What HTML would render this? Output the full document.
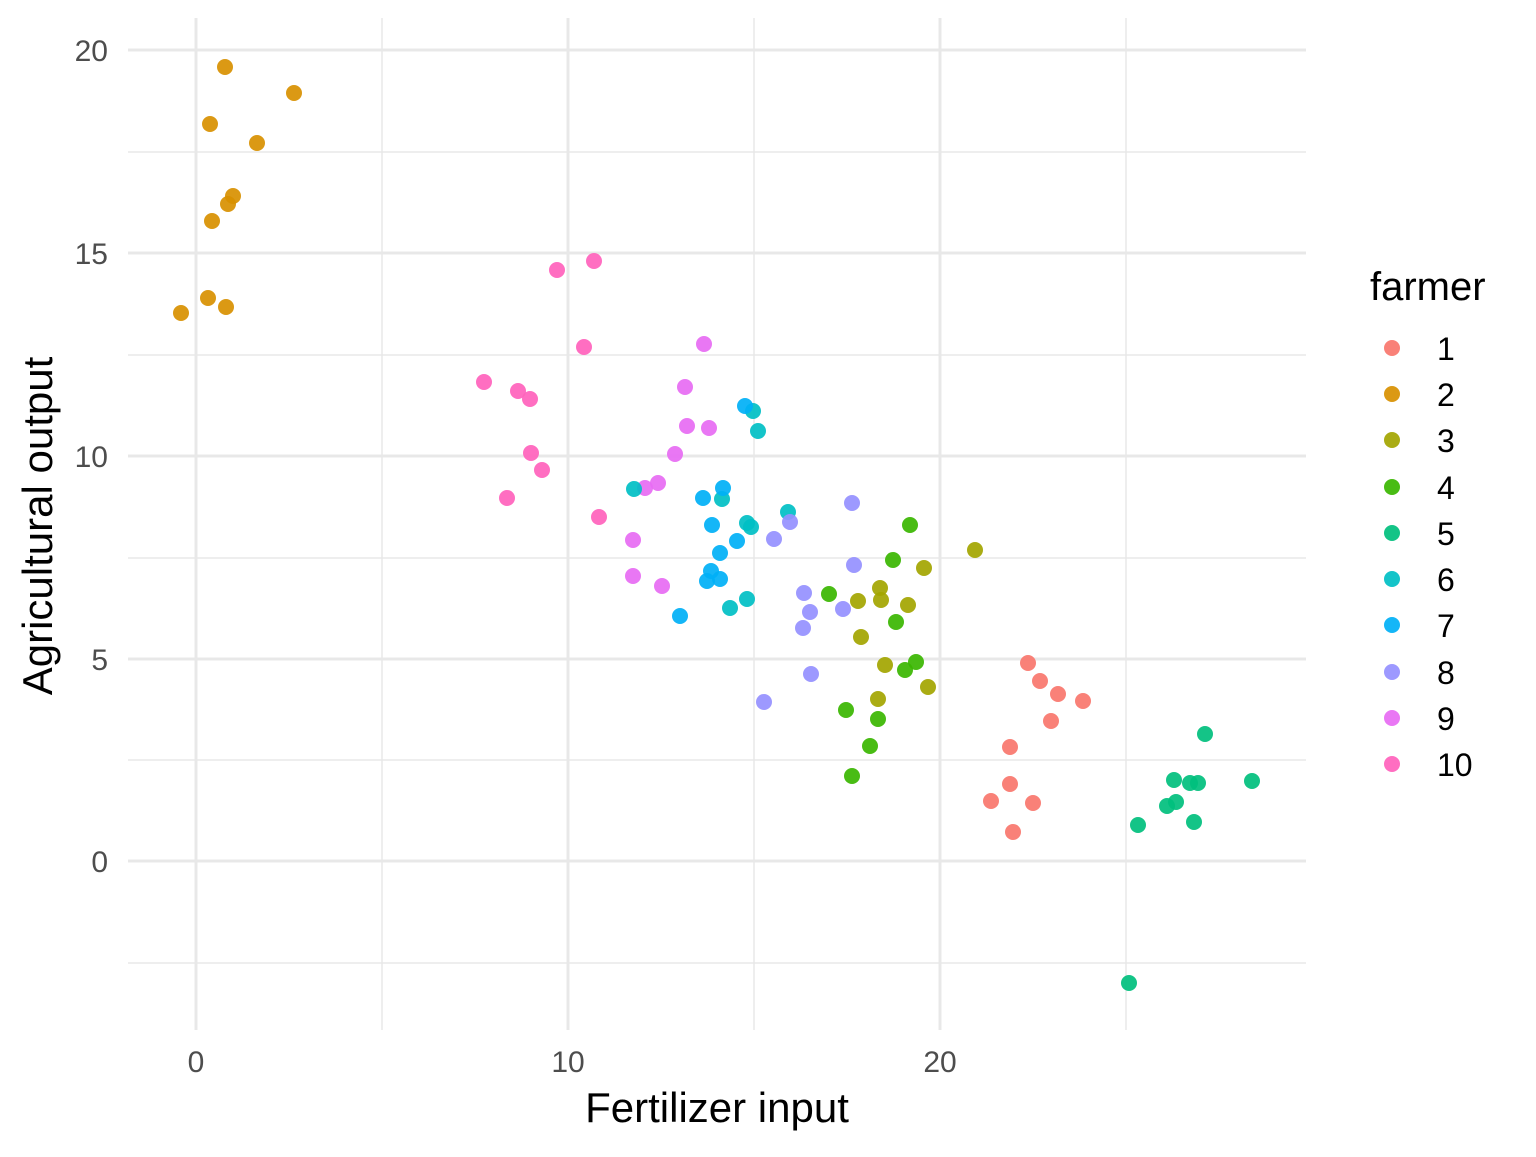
<!DOCTYPE html>
<html><head><style>body{margin:0;background:#fff}</style></head><body>
<svg width="1536" height="1152" xmlns="http://www.w3.org/2000/svg" font-family="Liberation Sans, Arial, sans-serif">
<g stroke="#e8e8e8" stroke-width="1.5">
<line x1="128" x2="1306" y1="152" y2="152"/><line x1="128" x2="1306" y1="355" y2="355"/><line x1="128" x2="1306" y1="558" y2="558"/><line x1="128" x2="1306" y1="760" y2="760"/><line x1="128" x2="1306" y1="963" y2="963"/>
<line x1="382" x2="382" y1="18" y2="1030"/><line x1="754" x2="754" y1="18" y2="1030"/><line x1="1126" x2="1126" y1="18" y2="1030"/>
</g>
<g stroke="#e8e8e8" stroke-width="3">
<line x1="128" x2="1306" y1="50" y2="50"/><line x1="128" x2="1306" y1="253" y2="253"/><line x1="128" x2="1306" y1="456" y2="456"/><line x1="128" x2="1306" y1="659" y2="659"/><line x1="128" x2="1306" y1="861" y2="861"/>
<line x1="196" x2="196" y1="18" y2="1030"/><line x1="568" x2="568" y1="18" y2="1030"/><line x1="940" x2="940" y1="18" y2="1030"/>
</g>
<g fill="#4d4d4d" font-size="30" text-anchor="end">
<text x="108" y="61">20</text><text x="108" y="264">15</text><text x="108" y="467">10</text><text x="108" y="670">5</text><text x="108" y="872">0</text>
</g>
<g fill="#4d4d4d" font-size="30" text-anchor="middle">
<text x="196" y="1072">0</text><text x="568" y="1072">10</text><text x="940" y="1072">20</text>
</g>
<text x="717" y="1122" font-size="42" text-anchor="middle">Fertilizer input</text>
<text transform="translate(52,526) rotate(-90)" font-size="42" text-anchor="middle">Agricultural output</text>
<g fill-opacity="0.92">
<g fill="#D89000"><circle cx="225" cy="67" r="8"/><circle cx="294" cy="93" r="8"/><circle cx="210" cy="124" r="8"/><circle cx="257" cy="143" r="8"/><circle cx="233" cy="196" r="8"/><circle cx="228" cy="204" r="8"/><circle cx="212" cy="221" r="8"/><circle cx="208" cy="298" r="8"/><circle cx="226" cy="307" r="8"/><circle cx="181" cy="313" r="8"/></g>
<g fill="#FF62BC"><circle cx="557" cy="270" r="8"/><circle cx="594" cy="261" r="8"/><circle cx="584" cy="347" r="8"/><circle cx="484" cy="382" r="8"/><circle cx="518" cy="391" r="8"/><circle cx="530" cy="399" r="8"/><circle cx="531" cy="453" r="8"/><circle cx="542" cy="470" r="8"/><circle cx="507" cy="498" r="8"/><circle cx="599" cy="517" r="8"/></g>
<g fill="#E76BF3"><circle cx="704" cy="344" r="8"/><circle cx="685" cy="387" r="8"/><circle cx="687" cy="426" r="8"/><circle cx="709" cy="428" r="8"/><circle cx="675" cy="454" r="8"/><circle cx="658" cy="483" r="8"/><circle cx="645" cy="488" r="8"/><circle cx="633" cy="540" r="8"/><circle cx="633" cy="576" r="8"/><circle cx="662" cy="586" r="8"/></g>
<g fill="#00BFC4"><circle cx="753" cy="411" r="8"/><circle cx="758" cy="431" r="8"/><circle cx="634" cy="489" r="8"/><circle cx="722" cy="499" r="8"/><circle cx="747" cy="523" r="8"/><circle cx="751" cy="527" r="8"/><circle cx="788" cy="512" r="8"/><circle cx="747" cy="599" r="8"/><circle cx="730" cy="608" r="8"/></g>
<g fill="#00B0F6"><circle cx="745" cy="406" r="8"/><circle cx="703" cy="498" r="8"/><circle cx="723" cy="488" r="8"/><circle cx="712" cy="525" r="8"/><circle cx="737" cy="541" r="8"/><circle cx="720" cy="553" r="8"/><circle cx="711" cy="571" r="8"/><circle cx="707" cy="581" r="8"/><circle cx="720" cy="579" r="8"/><circle cx="680" cy="616" r="8"/></g>
<g fill="#9590FF"><circle cx="852" cy="503" r="8"/><circle cx="790" cy="522" r="8"/><circle cx="774" cy="539" r="8"/><circle cx="854" cy="565" r="8"/><circle cx="804" cy="593" r="8"/><circle cx="810" cy="612" r="8"/><circle cx="843" cy="609" r="8"/><circle cx="803" cy="628" r="8"/><circle cx="811" cy="674" r="8"/><circle cx="764" cy="702" r="8"/></g>
<g fill="#39B600"><circle cx="910" cy="525" r="8"/><circle cx="893" cy="560" r="8"/><circle cx="829" cy="594" r="8"/><circle cx="896" cy="622" r="8"/><circle cx="916" cy="662" r="8"/><circle cx="905" cy="670" r="8"/><circle cx="846" cy="710" r="8"/><circle cx="878" cy="719" r="8"/><circle cx="870" cy="746" r="8"/><circle cx="852" cy="776" r="8"/></g>
<g fill="#A3A500"><circle cx="975" cy="550" r="8"/><circle cx="924" cy="568" r="8"/><circle cx="880" cy="588" r="8"/><circle cx="858" cy="601" r="8"/><circle cx="881" cy="600" r="8"/><circle cx="908" cy="605" r="8"/><circle cx="861" cy="637" r="8"/><circle cx="885" cy="665" r="8"/><circle cx="928" cy="687" r="8"/><circle cx="878" cy="699" r="8"/></g>
<g fill="#F8766D"><circle cx="1028" cy="663" r="8"/><circle cx="1040" cy="681" r="8"/><circle cx="1058" cy="694" r="8"/><circle cx="1083" cy="701" r="8"/><circle cx="1051" cy="721" r="8"/><circle cx="1010" cy="747" r="8"/><circle cx="1010" cy="784" r="8"/><circle cx="991" cy="801" r="8"/><circle cx="1033" cy="803" r="8"/><circle cx="1013" cy="832" r="8"/></g>
<g fill="#00BF7D"><circle cx="1205" cy="734" r="8"/><circle cx="1252" cy="781" r="8"/><circle cx="1174" cy="780" r="8"/><circle cx="1190" cy="783" r="8"/><circle cx="1198" cy="783" r="8"/><circle cx="1176" cy="802" r="8"/><circle cx="1167" cy="806" r="8"/><circle cx="1194" cy="822" r="8"/><circle cx="1138" cy="825" r="8"/><circle cx="1129" cy="983" r="8"/></g>
</g>
<text x="1370" y="300" font-size="40">farmer</text>
<g fill-opacity="0.92">
<circle cx="1392" cy="348" r="8" fill="#F8766D"/><circle cx="1392" cy="394" r="8" fill="#D89000"/><circle cx="1392" cy="440" r="8" fill="#A3A500"/><circle cx="1392" cy="487" r="8" fill="#39B600"/><circle cx="1392" cy="533" r="8" fill="#00BF7D"/><circle cx="1392" cy="579" r="8" fill="#00BFC4"/><circle cx="1392" cy="625" r="8" fill="#00B0F6"/><circle cx="1392" cy="672" r="8" fill="#9590FF"/><circle cx="1392" cy="718" r="8" fill="#E76BF3"/><circle cx="1392" cy="764" r="8" fill="#FF62BC"/>
</g>
<g font-size="32">
<text x="1437" y="360">1</text><text x="1437" y="406">2</text><text x="1437" y="452">3</text><text x="1437" y="499">4</text><text x="1437" y="545">5</text><text x="1437" y="591">6</text><text x="1437" y="637">7</text><text x="1437" y="684">8</text><text x="1437" y="730">9</text><text x="1437" y="776">10</text>
</g>
</svg>
</body></html>
